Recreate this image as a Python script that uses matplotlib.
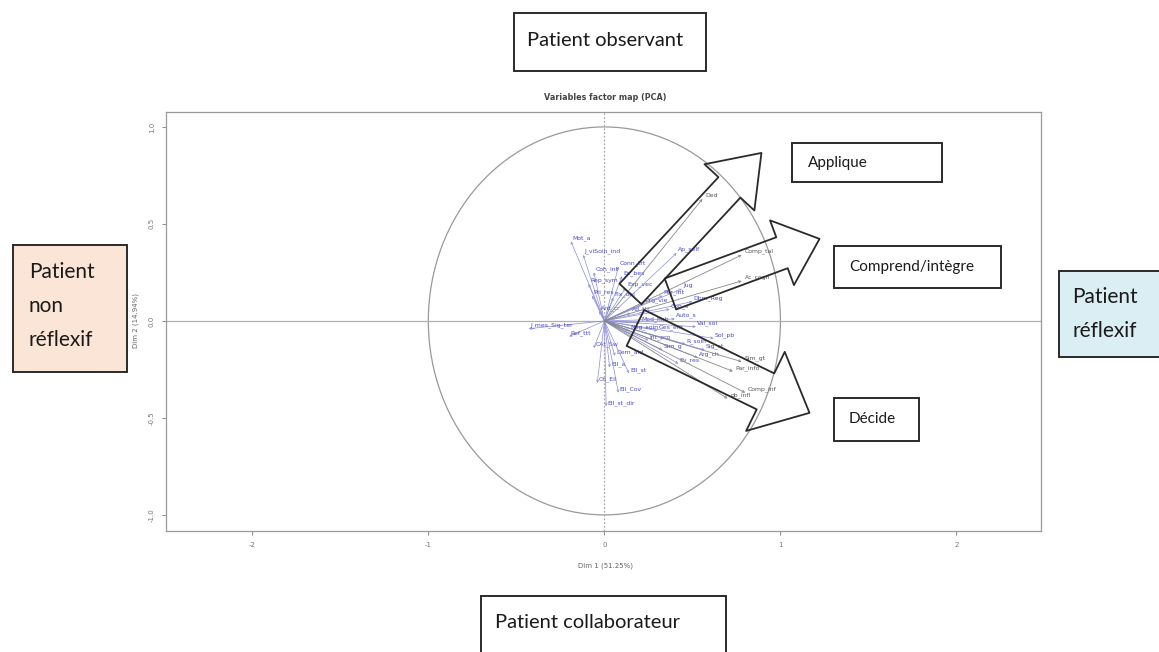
import matplotlib
matplotlib.use("Agg")
import matplotlib.pyplot as plt
import matplotlib.patches as mpatches

W, H = 1159, 652

# ---------------- data: PCA variable coordinates (Dim1, Dim2) ----------------
strong_names = ["Ded", "Comp_tal", "Ac_cogn", "Sim_gt", "Par_info", "Comp_inf", "pb_infl"]
strong_x = [0.557, 0.78, 0.78, 0.78, 0.73, 0.80, 0.70]
strong_y = [0.629, 0.34, 0.206, -0.21, -0.26, -0.37, -0.40]

weak_names = ["Mot_a", "J_viSoin_ind", "Conn_trt", "Ec_bes", "Coh_int", "Rep_sym",
              "Exp_vec", "Pri_res", "Fix_obj", "Org_vie", "Ant_cr", "Ad_ttt",
              "Per_int", "Con_s", "Dbm_Reg", "Jug", "Ap_self",
              "Mod_hab", "Auto_s", "Val_soi", "Sol_pb", "Ges_em", "Neg_soin",
              "Int_pro", "Sim_g", "R_soin", "Sig_st", "Ev_res", "Arg_ch",
              "J_mes_Sig_ter", "Ref_ttt", "CAt_Sw", "Dem_aid", "Ell_a", "Ell_st",
              "Ch_Ell", "Ell_Cov", "Ell_st_dir"]
weak_x = [-0.19, -0.12, 0.08, 0.10, -0.06, -0.09, 0.12, -0.07, 0.05, 0.22, -0.03, 0.15,
          0.33, 0.37, 0.50, 0.44, 0.41,
          0.20, 0.40, 0.52, 0.62, 0.30, 0.14,
          0.25, 0.33, 0.46, 0.57, 0.42, 0.53,
          -0.43, -0.20, -0.06, 0.06, 0.03, 0.14,
          -0.04, 0.08, 0.01]
weak_y = [0.41, 0.34, 0.28, 0.23, 0.25, 0.19, 0.17, 0.13, 0.12, 0.09, 0.05, 0.04,
          0.13, 0.06, 0.10, 0.165, 0.35,
          -0.01, 0.01, -0.03, -0.09, -0.05, -0.05,
          -0.10, -0.15, -0.12, -0.15, -0.22, -0.19,
          -0.04, -0.08, -0.14, -0.18, -0.24, -0.27,
          -0.32, -0.37, -0.44]

x_ticks = [-2, -1, 0, 1, 2]
x_tick_labels = ["-2", "-1", "0", "1", "2"]
y_ticks = [-1.0, -0.5, 0.0, 0.5, 1.0]
y_tick_labels = ["-1.0", "-0.5", "0.0", "0.5", "1.0"]

title = "Variables factor map (PCA)"
x_label = "Dim 1 (51.25%)"
y_label = "Dim 2 (14.94%)"

# big annotation arrows (tail -> tip, data coords)
group_names = ["Applique", "Comprend/intègre", "Décide"]
group_tail_x = [0.148, 0.375, 0.176]
group_tail_y = [0.139, 0.139, -0.036]
group_tip_x = [0.892, 1.222, 1.165]
group_tip_y = [0.866, 0.423, -0.474]

# ---------------- layout / style ----------------
arrow_px = [  # tail width, head width, head length (pixels)
    (30, 68, 47),
    (33, 69, 40),
    (40, 88, 49),
]
boxes = [  # text, x0, y0, x1, y1 (pixels, top-left origin), face, text x, line ys, fontsize
    ("Patient observant", 514, 13, 706, 71, "white", 527, [40], 14.5),
    ("Patient collaborateur", 481, 596, 726, 700, "white", 495, [622], 14.5),
    ("Applique", 792, 143, 942, 182, "white", 808, [163], 11),
    ("Comprend/intègre", 834, 246, 1001, 288, "white", 849, [267], 11),
    ("Décide", 834, 398, 919, 441, "white", 849, [419], 11),
    ("Patient\nnon\nréflexif", 13, 245, 127, 372, "#fbe5d6", 29, [272, 306, 340], 15),
    ("Patient\nréflexif", 1059, 271, 1200, 357, "#dbeef4", 1072, [297, 331], 15),
]

fig = plt.figure(figsize=(W / 100, H / 100), dpi=100)
fig.patch.set_facecolor("white")

ax_l, ax_r, ax_t, ax_b = 166, 1041, 112, 531
ax = fig.add_axes([ax_l / W, 1 - ax_b / H, (ax_r - ax_l) / W, (ax_b - ax_t) / H])
ax.set_xlim(-2.49, 2.48)
ax.set_ylim(-1.083, 1.077)

for s in ax.spines.values():
    s.set_color("#9a9a9a")
    s.set_linewidth(0.9)

ax.set_xticks(x_ticks)
ax.set_xticklabels(x_tick_labels)
ax.set_yticks(y_ticks)
ax.set_yticklabels(y_tick_labels, rotation=90, va="center")
ax.tick_params(axis="both", labelsize=5, colors="#777777", length=3, width=0.6, pad=5)

ax.axhline(0, color="#b0b0b0", lw=0.9)
ax.axvline(0, color="#aaaaaa", lw=0.9, ls=(0, (1.5, 1.5)))
ax.add_patch(mpatches.Ellipse((0, 0), 2, 2, fill=False, ec="#999999", lw=0.9))

fig.text(605 / W, 1 - 97 / H, title, ha="center", va="center", fontsize=5.8,
         fontweight="bold", color="#444444")
fig.text(605 / W, 1 - 566 / H, x_label, ha="center", va="center", fontsize=5,
         color="#666666")
fig.text(136 / W, 1 - 321 / H, y_label, ha="center", va="center", fontsize=5,
         color="#666666", rotation=90)

# variable arrows
for n, x, y in zip(weak_names, weak_x, weak_y):
    ax.annotate("", xy=(x, y), xytext=(0, 0),
                arrowprops=dict(arrowstyle="->", color="#8d8dd8", lw=0.5,
                                shrinkA=0, shrinkB=0, mutation_scale=4))
    ax.annotate(n, xy=(x, y), xytext=(1, 0.5), textcoords="offset points",
                fontsize=4.4, color="#3434cc", ha="left", va="bottom", alpha=0.9)
for n, x, y in zip(strong_names, strong_x, strong_y):
    ax.annotate("", xy=(x, y), xytext=(0, 0),
                arrowprops=dict(arrowstyle="->", color="#888888", lw=0.6,
                                shrinkA=0, shrinkB=0, mutation_scale=4))
    ax.annotate(n, xy=(x, y), xytext=(2, 0.5), textcoords="offset points",
                fontsize=4.4, color="#555555", ha="left", va="bottom")

# big block arrows
px2pt = 72 / 100
for i, name in enumerate(group_names):
    tw, hw, hl = arrow_px[i]
    ax.annotate("", xy=(group_tip_x[i], group_tip_y[i]),
                xytext=(group_tail_x[i], group_tail_y[i]),
                arrowprops=dict(
                    arrowstyle=f"simple,head_length={hl},head_width={hw},tail_width={tw}",
                    mutation_scale=px2pt, fc="none", ec="#2a2a2a", lw=1.3,
                    shrinkA=0, shrinkB=0), annotation_clip=False)

# text boxes
for text, x0, y0, x1, y1, face, tx, ys, fs in boxes:
    rect = mpatches.Rectangle((x0 / W, 1 - y1 / H), (x1 - x0) / W, (y1 - y0) / H,
                              transform=fig.transFigure, fc=face, ec="#2a2a2a",
                              lw=1.4, clip_on=False)
    fig.add_artist(rect)
    for line, ty in zip(text.split("\n"), ys):
        fig.text(tx / W, 1 - ty / H, line, ha="left", va="center", fontsize=fs,
                 family="Lato", color="#1a1a1a")

fig.savefig("out.png", dpi=100, facecolor="white")
